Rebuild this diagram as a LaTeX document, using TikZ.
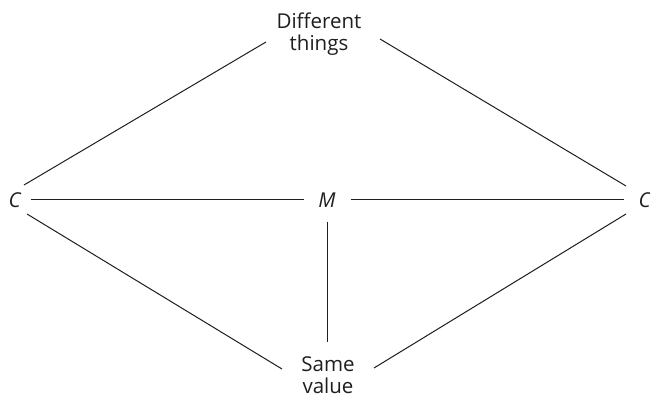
\documentclass[tikz,border=0pt]{standalone}
\usepackage{fontspec}
\setmainfont{Open Sans}
\usetikzlibrary{calc}
\definecolor{ink}{HTML}{1E1E1E}
\tikzset{
  lbl/.style={inner sep=0pt, text=ink, font=\fontsize{20.5}{22}\selectfont, align=center},
  conn/.style={draw=ink, line width=1pt}
}
\begin{document}
\begin{tikzpicture}[x=1pt,y=1pt]
\useasboundingbox (0,0) rectangle (650,398);
\node[lbl] (dt) at (319,363.5) {Different\\things};
\node[lbl] (sv) at (328,22.8) {Same\\value};
\node[lbl] (cl) at (15,198) {\textit{C}};
\node[lbl] (m)  at (327,198) {\textit{M}};
\node[lbl] (cr) at (645,198) {\textit{C}};
\draw[conn] ($(cl.center)+(9,15)$) -- ($(dt.center)+(-53,-7.5)$);
\draw[conn] ($(dt.center)+(61,-4.5)$) -- ($(cr.center)+(-19,14)$);
\draw[conn] ($(cl.center)+(16,0)$) -- ($(m.center)+(-23,0)$);
\draw[conn] ($(m.center)+(24,0)$) -- ($(cr.center)+(-21,0)$);
\draw[conn] ($(cl.center)+(12,-14)$) -- ($(sv.center)+(-46,6.2)$);
\draw[conn] ($(sv.center)+(46,7.2)$) -- ($(cr.center)+(-19,-14)$);
\draw[conn] ($(m.center)+(0,-22)$) -- ($(sv.center)+(-1,33.2)$);
\end{tikzpicture}
\end{document}
